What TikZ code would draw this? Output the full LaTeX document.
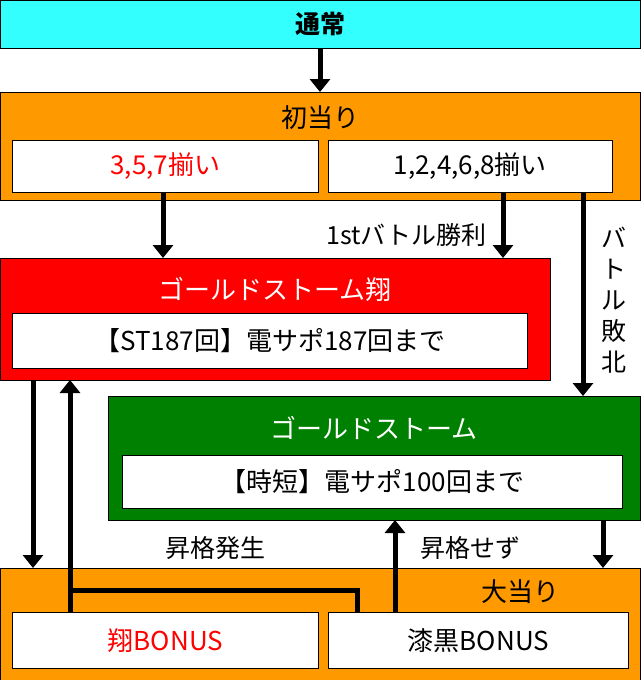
\documentclass[tikz,border=0pt]{standalone}
\usepackage{fontspec}
\setmainfont{Noto Sans CJK JP}
\usetikzlibrary{arrows.meta}
\definecolor{tsujo}{HTML}{33FFFF}
\definecolor{hatsu}{HTML}{FF9900}
\definecolor{shou}{HTML}{FF0000}
\definecolor{kuro}{HTML}{008000}
\tikzset{
  band/.style={draw=black, line width=0.8pt, anchor=north west},
  inbox/.style={draw=black, fill=white, line width=0.8pt, anchor=north west, font=\fontsize{26}{28}\selectfont},
  ttl/.style={font=\fontsize{26}{28}\selectfont},
  flow/.style={line width=5pt, -{Triangle[length=13pt,width=20pt]}},
  lbl/.style={font=\fontsize{25}{27}\selectfont}
}
\begin{document}
\begin{tikzpicture}[x=1pt,y=-1pt]
\useasboundingbox (0,0) rectangle (640,680);
% bands
\node[band, fill=tsujo, minimum width=640, minimum height=48] (tsujo) at (0,0) {};
\node[font=\bfseries\fontsize{25}{27}\selectfont] at (320,24) {通常};
\node[band, fill=hatsu, minimum width=640, minimum height=108] (hatsu) at (0,92) {};
\node[ttl] at (320,118) {初当り};
\node[inbox, minimum width=306, minimum height=52, text=shou] (odd) at (12,140) {3,5,7揃い};
\node[inbox, minimum width=284, minimum height=52] (even) at (328,140) {1,2,4,6,8揃い};
% red
\node[band, fill=shou, minimum width=550, minimum height=122] (shoubox) at (0,258) {};
\node[ttl, text=white] at (275,289) {ゴールドストーム翔};
\node[inbox, minimum width=515, minimum height=55] (shouin) at (12,313) {【ST187回】電サポ187回まで};
% green
\node[band, fill=kuro, minimum width=532, minimum height=124] (kurobox) at (108,396) {};
\node[ttl, text=white] at (374,428) {ゴールドストーム};
\node[inbox, minimum width=500, minimum height=53] (kuroin) at (122,455) {【時短】電サポ100回まで};
% bottom
\node[band, fill=hatsu, minimum width=640, minimum height=112] (ooatari) at (0,568) {};
\node[ttl] at (520,592) {大当り};
\node[inbox, minimum width=306, minimum height=56, text=shou] (shoubonus) at (12,612) {翔BONUS};
\node[inbox, minimum width=300, minimum height=56] (kurobonus) at (328,612) {漆黒BONUS};
% arrows
\draw[flow] (320,48) -- (320,92);
\draw[flow] (163,192) -- (163,258);
\draw[flow] (503,192) -- (503,258);
\node[lbl, anchor=east] at (490,235) {1stバトル勝利};
\draw[flow] (583,192) -- (583,396);
\node[lbl, align=center, inner sep=0pt, font=\fontsize{25}{31}\selectfont] at (614,300) {バ\\ト\\ル\\敗\\北};
\draw[flow] (33,380) -- (33,568);
\draw[line width=5pt] (357,612) -- (357,590) -- (70,590);
\draw[flow] (70,612) -- (70,380);
\node[lbl] at (215,548) {昇格発生};
\draw[flow] (395,612) -- (395,520);
\node[lbl] at (470,548) {昇格せず};
\draw[flow] (603,520) -- (603,568);
\end{tikzpicture}
\end{document}
